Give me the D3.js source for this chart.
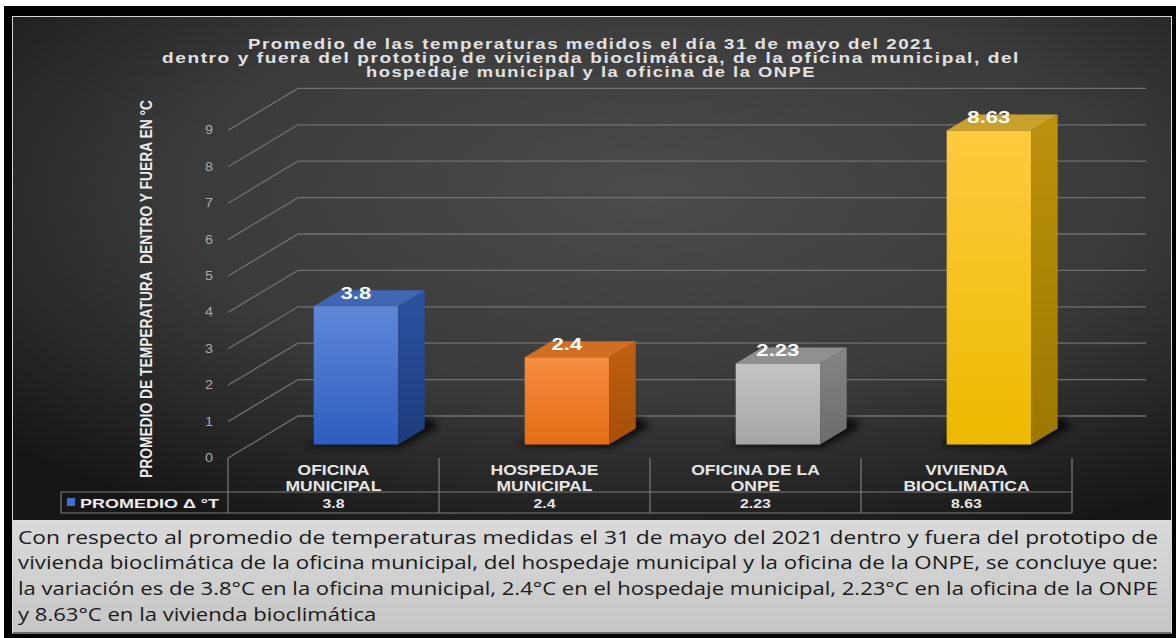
<!DOCTYPE html>
<html>
<head>
<meta charset="utf-8">
<script src="https://cdn.jsdelivr.net/npm/d3@7"></script>
<style>
  html, body { margin: 0; padding: 0; background: #ffffff; }
  svg { display: block; }
</style>
</head>
<body>
<svg id="chart" width="1176" height="638"></svg>
<script>
// ---- data ----
const categories = ["OFICINA MUNICIPAL", "HOSPEDAJE MUNICIPAL", "OFICINA DE LA ONPE", "VIVIENDA BIOCLIMATICA"];
const categoryLines = [["OFICINA", "MUNICIPAL"], ["HOSPEDAJE", "MUNICIPAL"], ["OFICINA DE LA", "ONPE"], ["VIVIENDA", "BIOCLIMATICA"]];
const values = [3.8, 2.4, 2.23, 8.63];
const yTicks = [0, 1, 2, 3, 4, 5, 6, 7, 8, 9];
const seriesName = "PROMEDIO Δ °T";
const titleLines = [
  "Promedio de las temperaturas medidos el día 31 de mayo del 2021",
  "dentro y fuera del prototipo de vivienda bioclimática, de la oficina municipal, del",
  "hospedaje municipal y la oficina de la ONPE"
];
const yAxisTitle = "PROMEDIO DE TEMPERATURA  DENTRO Y FUERA EN °C";
const noteLines = [
  "Con respecto al promedio de temperaturas medidas el 31 de mayo del 2021 dentro y fuera del prototipo de",
  "vivienda bioclimática de la oficina municipal, del hospedaje municipal y la oficina de la ONPE, se concluye que:",
  `la variación es de ${values[0]}°C en la oficina municipal, ${values[1]}°C en el hospedaje municipal, ${values[2]}°C en la oficina de la ONPE`,
  `y ${values[3]}°C en la vivienda bioclimática`
];

// ---- bar colours: [front top, front bottom, side top, side bottom, top face] ----
const barColors = [
  ["#6088d8", "#2d5dbf", "#2c52a0", "#1d3c7c", "#4066b4"],
  ["#f58c3e", "#e46c16", "#c2600f", "#a44f0b", "#d26e24"],
  ["#c4c4c4", "#a5a5a5", "#858585", "#6c6c6c", "#909090"],
  ["#ffca3e", "#ecba00", "#bb920c", "#9c7800", "#caa12c"]
];

const svg = d3.select("#chart");
const defs = svg.append("defs");

// ---- frame and panels ----
const bgGrad = defs.append("radialGradient").attr("id", "bgGrad")
  .attr("cx", "0.55").attr("cy", "0.35").attr("r", "0.75");
bgGrad.append("stop").attr("offset", "0").attr("stop-color", "#4b4b4b");
bgGrad.append("stop").attr("offset", "0.55").attr("stop-color", "#3a3a3a");
bgGrad.append("stop").attr("offset", "1").attr("stop-color", "#161616");

const noteGrad = defs.append("linearGradient").attr("id", "noteGrad")
  .attr("x1", 0).attr("y1", 0).attr("x2", 0).attr("y2", 1);
noteGrad.append("stop").attr("offset", "0").attr("stop-color", "#dadada");
noteGrad.append("stop").attr("offset", "1").attr("stop-color", "#c6c6c6");

const blur = defs.append("filter").attr("id", "shadowBlur")
  .attr("x", "-30%").attr("y", "-30%").attr("width", "160%").attr("height", "160%");
blur.append("feGaussianBlur").attr("stdDeviation", 3.5);

svg.append("rect").attr("x", 4).attr("y", 6).attr("width", 1172).attr("height", 632).attr("fill", "#000");
svg.append("rect").attr("x", 12.5).attr("y", 16.5).attr("width", 1159).attr("height", 616.5)
  .attr("fill", "none").attr("stroke", "#d8d8d8").attr("stroke-width", 1);
svg.append("rect").attr("x", 13).attr("y", 17).attr("width", 1158).attr("height", 503).attr("fill", "url(#bgGrad)");
svg.append("rect").attr("x", 13).attr("y", 520).attr("width", 1158).attr("height", 112).attr("fill", "url(#noteGrad)");

// ---- scales ----
const x = d3.scaleBand().domain(categories).range([228, 1072]).padding(0);
const y = d3.scaleLinear().domain([0, 9]).range([458, 130.4]);
const DX = 70, DY = 42;          // depth offset of the back wall
const F0 = 0.32, F1 = 0.70;      // depth span occupied by the bars

// stretch text horizontally by factor k
function stretch(sel, k) {
  sel.each(function () {
    const w = this.getComputedTextLength();
    d3.select(this).attr("textLength", w * k).attr("lengthAdjust", "spacingAndGlyphs");
  });
}
function fitWidth(sel, width, adjust) {
  sel.attr("textLength", width).attr("lengthAdjust", adjust);
}

// ---- title ----
const titleWidths = [686, 858, 450];
svg.append("g").selectAll("text").data(titleLines).join("text")
  .attr("x", 591).attr("y", (d, i) => 48.5 + i * 14)
  .attr("text-anchor", "middle")
  .attr("font-family", "'Liberation Sans', Arial, sans-serif")
  .attr("font-weight", "bold").attr("font-size", 14.5)
  .attr("letter-spacing", 1.2)
  .attr("fill", "#e2e2e2")
  .text(d => d)
  .each(function (d, i) { fitWidth(d3.select(this), titleWidths[i], "spacingAndGlyphs"); });

// ---- grid: side wall diagonals and back wall lines ----
const x0 = x.range()[0], x1 = x.range()[1];
svg.append("g").selectAll("path").data(yTicks).join("path")
  .attr("d", t => `M${x0},${y(t)} L${x0 + DX},${y(t) - DY} L${x1 + DX + 4},${y(t) - DY}`)
  .attr("fill", "none").attr("stroke", "#707070").attr("stroke-width", 1.3);

// ---- y tick labels ----
svg.append("g").selectAll("text").data(yTicks).join("text")
  .attr("x", 209).attr("y", t => y(t) + 4)
  .attr("text-anchor", "middle")
  .attr("font-family", "'Liberation Sans', Arial, sans-serif")
  .attr("font-size", 12).attr("fill", "#ababab")
  .text(t => t)
  .call(stretch, 1.2);

// ---- y axis title ----
svg.append("text")
  .attr("transform", "translate(146,289) rotate(-90)")
  .attr("text-anchor", "middle").attr("dominant-baseline", "central")
  .attr("font-family", "'Liberation Sans', Arial, sans-serif")
  .attr("font-weight", "bold").attr("font-size", 17)
  .attr("fill", "#ececec")
  .style("white-space", "pre")
  .text(yAxisTitle)
  .call(fitWidth, 378, "spacingAndGlyphs");

// ---- bars ----
const bw = x.bandwidth();
const barW = bw * 0.4;
const dxs = DX * (F1 - F0), dys = DY * (F1 - F0);

const bars = categories.map((c, i) => {
  const xl = x(c) + (bw - barW) / 2 + DX * F0;
  const xr = xl + barW;
  const yb = y(0) - DY * F0;
  const yt = y(values[i]) - DY * F0;
  return { c, i, v: values[i], xl, xr, yb, yt };
});

bars.forEach(b => {
  const col = barColors[b.i];
  const fg = defs.append("linearGradient").attr("id", "front" + b.i)
    .attr("x1", 0).attr("y1", 0).attr("x2", 0).attr("y2", 1);
  fg.append("stop").attr("offset", "0").attr("stop-color", col[0]);
  fg.append("stop").attr("offset", "1").attr("stop-color", col[1]);
  const sg = defs.append("linearGradient").attr("id", "side" + b.i)
    .attr("x1", 0).attr("y1", 0).attr("x2", 0).attr("y2", 1);
  sg.append("stop").attr("offset", "0").attr("stop-color", col[2]);
  sg.append("stop").attr("offset", "1").attr("stop-color", col[3]);
});

const barG = svg.append("g").selectAll("g").data(bars).join("g");

// base shadow
barG.append("path")
  .attr("d", b => `M${b.xl - 8},${b.yb + 1} L${b.xr + 2},${b.yb + 3} L${b.xr + dxs + 14},${b.yb - dys - 2}
                   L${b.xr + dxs + 6},${b.yb - dys - 10} L${b.xl + dxs},${b.yb - dys - 2} Z`)
  .attr("fill", "#000").attr("opacity", 0.75).attr("filter", "url(#shadowBlur)");

// front face
barG.append("rect")
  .attr("x", b => b.xl).attr("y", b => b.yt)
  .attr("width", barW).attr("height", b => b.yb - b.yt)
  .attr("fill", b => `url(#front${b.i})`);

// side face
barG.append("path")
  .attr("d", b => `M${b.xr},${b.yt} L${b.xr + dxs},${b.yt - dys} L${b.xr + dxs},${b.yb - dys} L${b.xr},${b.yb} Z`)
  .attr("fill", b => `url(#side${b.i})`);

// top face
barG.append("path")
  .attr("d", b => `M${b.xl},${b.yt} L${b.xl + dxs},${b.yt - dys} L${b.xr + dxs},${b.yt - dys} L${b.xr},${b.yt} Z`)
  .attr("fill", b => barColors[b.i][4]);

// value labels
barG.append("text")
  .attr("x", b => b.xl + barW / 2).attr("y", b => b.yt - 7)
  .attr("text-anchor", "middle")
  .attr("font-family", "'Liberation Sans', Arial, sans-serif")
  .attr("font-weight", "bold").attr("font-size", 17)
  .attr("fill", "#ffffff")
  .text(b => b.v)
  .call(stretch, 1.3);

// ---- data table under the axis ----
const tableTop = 492, tableBot = 513, tableLeft = 61;
const tableG = svg.append("g").attr("stroke", "#7c7c7c").attr("stroke-width", 1.2).attr("fill", "none");
const bounds = categories.map(c => x(c)).concat([x1]);
tableG.selectAll("line.v").data(bounds).join("line")
  .attr("x1", d => d).attr("x2", d => d).attr("y1", y(0)).attr("y2", tableBot);
tableG.append("line").attr("x1", tableLeft).attr("x2", x1).attr("y1", tableTop).attr("y2", tableTop);
tableG.append("line").attr("x1", tableLeft).attr("x2", x1).attr("y1", tableBot).attr("y2", tableBot);
tableG.append("line").attr("x1", tableLeft).attr("x2", tableLeft).attr("y1", tableTop).attr("y2", tableBot);

// category labels
const catG = svg.append("g").selectAll("text").data(categories).join("text")
  .attr("text-anchor", "middle")
  .attr("font-family", "'Liberation Sans', Arial, sans-serif")
  .attr("font-weight", "bold").attr("font-size", 14)
  .attr("fill", "#e6e6e6");
catG.each(function (c, i) {
  const t = d3.select(this);
  categoryLines[i].forEach((line, j) => {
    t.append("tspan").attr("x", x(c) + bw / 2).attr("y", 475 + j * 16).text(line);
  });
});
catG.selectAll("tspan").call(stretch, 1.25);

// table values
svg.append("g").selectAll("text").data(values).join("text")
  .attr("x", (v, i) => x(categories[i]) + bw / 2).attr("y", 507.5)
  .attr("text-anchor", "middle")
  .attr("font-family", "'Liberation Sans', Arial, sans-serif")
  .attr("font-weight", "bold").attr("font-size", 13)
  .attr("fill", "#e6e6e6")
  .text(v => v)
  .call(stretch, 1.22);

// legend key
svg.append("rect").attr("x", 67).attr("y", 498).attr("width", 8).attr("height", 8).attr("fill", "#3f6fd0");
svg.append("text")
  .attr("x", 80).attr("y", 507.5)
  .attr("font-family", "'Liberation Sans', Arial, sans-serif")
  .attr("font-weight", "bold").attr("font-size", 13)
  .attr("fill", "#ececec")
  .text(seriesName)
  .call(fitWidth, 139, "spacingAndGlyphs");

// ---- note paragraph ----
const noteG = svg.append("g").selectAll("text").data(noteLines).join("text")
  .attr("x", 18).attr("y", (d, i) => 543.5 + i * 25.8)
  .attr("font-family", "'Open Sans', 'Noto Sans', sans-serif")
  .attr("font-size", 18)
  .attr("fill", "#1a1a1a")
  .text(d => d);
let lastK = 1;
noteG.each(function (d, i) {
  const w = this.getComputedTextLength();
  if (i < noteLines.length - 1) {
    lastK = 1140 / w;
    d3.select(this).attr("textLength", 1140).attr("lengthAdjust", "spacingAndGlyphs");
  } else {
    d3.select(this).attr("textLength", w * lastK).attr("lengthAdjust", "spacingAndGlyphs");
  }
});
</script>
</body>
</html>
